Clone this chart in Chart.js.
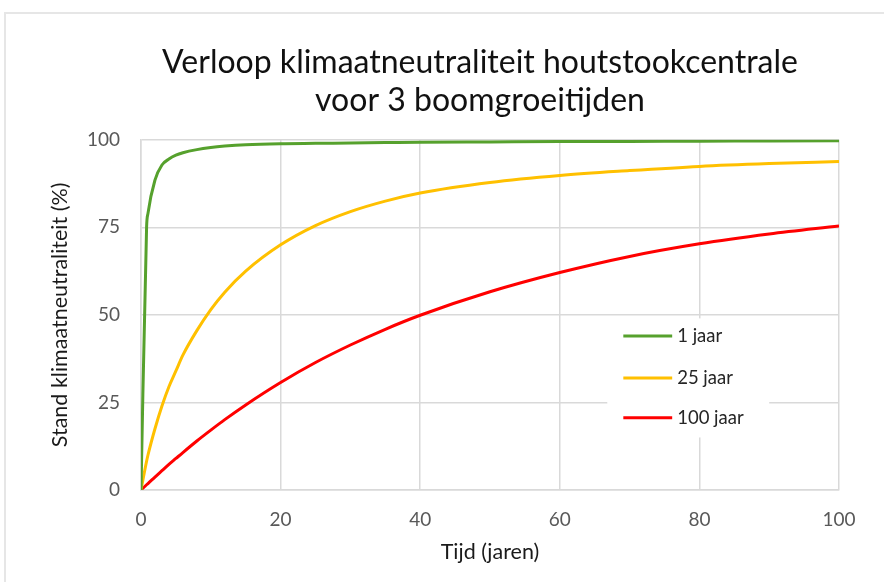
<!DOCTYPE html>
<html>
<head>
<meta charset="utf-8">
<script src="https://cdn.jsdelivr.net/npm/chart.js@4/dist/chart.umd.min.js"></script>
<style>
  html, body { margin: 0; padding: 0; background: #fff; }
  #wrap { position: relative; width: 884px; height: 582px; }
  #frame { position: absolute; left: 4px; top: 12px; right: 0; bottom: 0; border-top: 2px solid #e6e6e6; border-left: 2px solid #e6e6e6; pointer-events: none; }
  canvas { display: block; }
</style>
</head>
<body>
<div id="wrap">
  <canvas id="c" width="884" height="582"></canvas>
  <div id="frame"></div>
</div>
<script>
// ---- data ----
const titleLines = ["Verloop klimaatneutraliteit houtstookcentrale", "voor 3 boomgroeitijden"];
const xTitle = "Tijd (jaren)";
const yTitle = "Stand klimaatneutraliteit (%)";
const seriesNames = ["1 jaar", "25 jaar", "100 jaar"];
const years = [0, 0.8, 1, 2, 3, 4, 5, 6, 8, 10, 12, 15, 20, 25, 30, 35, 40, 50, 60, 70, 80, 90, 100];
const green1 = [0, 75, 79, 88.5, 92.8, 94.5, 95.6, 96.3, 97.2, 97.8, 98.2, 98.6, 98.9, 99.0, 99.1, 99.2, 99.3, 99.4, 99.5, 99.55, 99.6, 99.65, 99.7];
const yellow25 = [0, 8.2, 10, 17.5, 24, 29.5, 34, 38.5, 45.5, 51.5, 56.5, 62.5, 70, 75.5, 79.5, 82.5, 84.8, 87.8, 89.8, 91.2, 92.4, 93.2, 93.8];
const red100 = [0, 1.5, 1.85, 3.7, 5.5, 7.3, 9.0, 10.7, 14.0, 17.1, 20.1, 24.3, 30.7, 36.4, 41.4, 45.9, 49.9, 56.6, 62.1, 66.7, 70.3, 73.1, 75.4];
const xTicks = [0, 20, 40, 60, 80, 100];
const yTicks = [0, 25, 50, 75, 100];

const colors = ["#56a12d", "#ffc000", "#ff0000"];
const FONT = "Lato, 'Open Sans', sans-serif";

function pts(vals) { return years.map((x, i) => ({ x: x, y: vals[i] })); }

const titleShift = {
  id: 'titleShift',
  afterLayout(chart) {
    const t = chart.titleBlock;
    if (t) { t.left = 121; t.right = 839; t.width = t.right - t.left; }
  }
};

const insideLegend = {
  id: 'insideLegend',
  beforeDatasetsDraw(chart) {
    const { ctx, chartArea: a } = chart;
    const w = a.right - a.left, h = a.bottom - a.top;
    const bx = a.left + w * 0.668, by = a.top + h * 0.51;
    const bw = w * 0.232, bh = h * 0.34;
    ctx.save();
    ctx.fillStyle = '#ffffff';
    ctx.fillRect(bx, by, bw, bh);
    ctx.restore();
  },
  afterDatasetsDraw(chart) {
    const { ctx, chartArea: a } = chart;
    const w = a.right - a.left, h = a.bottom - a.top;
    const lx0 = a.left + w * 0.691, lx1 = a.left + w * 0.761;
    const rows = [0.56, 0.68, 0.794];
    ctx.save();
    chart.data.datasets.forEach((ds, i) => {
      const y = a.top + h * rows[i];
      ctx.strokeStyle = ds.borderColor;
      ctx.lineWidth = 3;
      ctx.beginPath();
      ctx.moveTo(lx0, y);
      ctx.lineTo(lx1, y);
      ctx.stroke();
      ctx.fillStyle = '#262626';
      ctx.font = "18.5px " + FONT;
      ctx.textBaseline = 'middle';
      ctx.textAlign = 'left';
      ctx.fillText(ds.label, lx1 + 5, y);
    });
    ctx.restore();
  }
};

new Chart(document.getElementById('c'), {
  type: 'line',
  data: {
    datasets: [
      { label: seriesNames[0], data: pts(green1), borderColor: colors[0], backgroundColor: colors[0] },
      { label: seriesNames[1], data: pts(yellow25), borderColor: colors[1], backgroundColor: colors[1] },
      { label: seriesNames[2], data: pts(red100), borderColor: colors[2], backgroundColor: colors[2] }
    ]
  },
  options: {
    responsive: false,
    animation: false,
    devicePixelRatio: 1,
    layout: { padding: { left: 0, right: 45, top: 0, bottom: 0 } },
    elements: {
      point: { radius: 0 },
      line: { borderWidth: 3, cubicInterpolationMode: 'monotone' }
    },
    plugins: {
      legend: { display: false },
      tooltip: { enabled: false },
      title: {
        display: true,
        text: titleLines,
        color: '#111111',
        font: { family: FONT, size: 32, weight: 'normal', lineHeight: 1.2 },
        padding: { top: 43, bottom: 20 }
      }
    },
    scales: {
      x: {
        type: 'linear', min: 0, max: 100,
        afterBuildTicks(s) { s.ticks = xTicks.map(v => ({ value: v })); },
        afterFit(s) { s.height = 92; },
        grid: { color: '#d9d9d9', lineWidth: 1.5, drawTicks: false },
        border: { color: '#d9d9d9', width: 1.5 },
        ticks: { color: '#595959', font: { family: FONT, size: 19 }, padding: 18, maxRotation: 0 },
        title: { display: true, text: xTitle, color: '#1a1a1a', font: { family: FONT, size: 21.5, lineHeight: 1.2 }, padding: { top: 0, bottom: 17 } }
      },
      y: {
        min: 0, max: 100,
        afterBuildTicks(s) { s.ticks = yTicks.map(v => ({ value: v })); },
        afterFit(s) { s.width = 141; },
        grid: { color: '#d9d9d9', lineWidth: 1.5, drawTicks: false },
        border: { color: '#d9d9d9', width: 1.5 },
        ticks: { color: '#595959', font: { family: FONT, size: 19 }, padding: 21 },
        title: { display: true, text: yTitle, color: '#1a1a1a', font: { family: FONT, size: 21.5, lineHeight: 1.2 }, padding: { top: 47, bottom: 0 } }
      }
    }
  },
  plugins: [titleShift, insideLegend]
});
</script>
</body>
</html>
